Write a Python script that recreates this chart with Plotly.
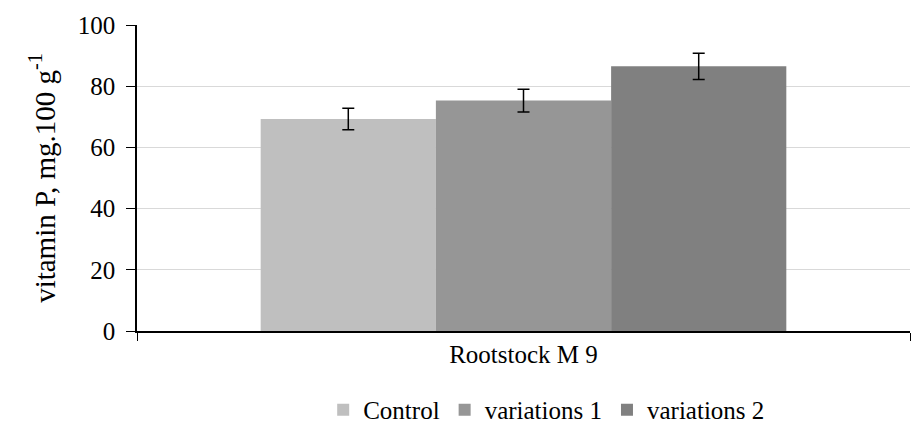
import plotly.graph_objects as go

categories = ["Rootstock M 9"]
series_names = ["Control", "variations 1", "variations 2"]
values = [[69.3], [75.3], [86.5]]
errors = [[3.5], [3.7], [4.3]]
colors = ["#BFBFBF", "#969696", "#808080"]
y_ticks = [0, 20, 40, 60, 80, 100]

font_family = "Liberation Serif, Times New Roman, serif"

fig = go.Figure()
for name, vals, errs, col in zip(series_names, values, errors, colors):
    fig.add_trace(go.Bar(
        x=categories, y=vals, name=name,
        marker=dict(color=col, line=dict(width=0)),
        error_y=dict(type="data", array=errs, symmetric=True,
                     color="black", thickness=1.5, width=6),
    ))

fig.update_layout(
    width=912, height=427,
    margin=dict(l=137, r=2, t=25, b=96, autoexpand=False),
    paper_bgcolor="white", plot_bgcolor="white",
    barmode="group", bargap=0.32, bargroupgap=0,
    font=dict(family=font_family, size=25, color="black"),
    showlegend=True,
    legend=dict(orientation="h", x=0.53, xanchor="center", xref="paper",
                y=-0.258, yanchor="middle", font=dict(family=font_family, size=25),
                itemwidth=30, traceorder="normal"),
)
fig.update_xaxes(
    showline=True, linecolor="black", linewidth=1.5,
    ticks="outside", tickson="boundaries", ticklen=8, tickcolor="black",
    tickfont=dict(family=font_family, size=25), showgrid=False, automargin=False,
)
fig.update_yaxes(
    range=[0, 100], tickvals=y_ticks,
    showline=True, linecolor="black", linewidth=1.5,
    ticks="outside", ticklen=9, tickcolor="black",
    showgrid=True, gridcolor="#D9D9D9", gridwidth=1,
    zeroline=False, tickfont=dict(family=font_family, size=25),
    ticklabelstandoff=6, automargin=False,
    title=dict(text="vitamin P, mg.100 g<sup>-1</sup>",
               font=dict(family=font_family, size=29), standoff=14),
)

fig.write_html("out.html", config={"displayModeBar": False},
               post_script="document.body.style.margin='0';")
